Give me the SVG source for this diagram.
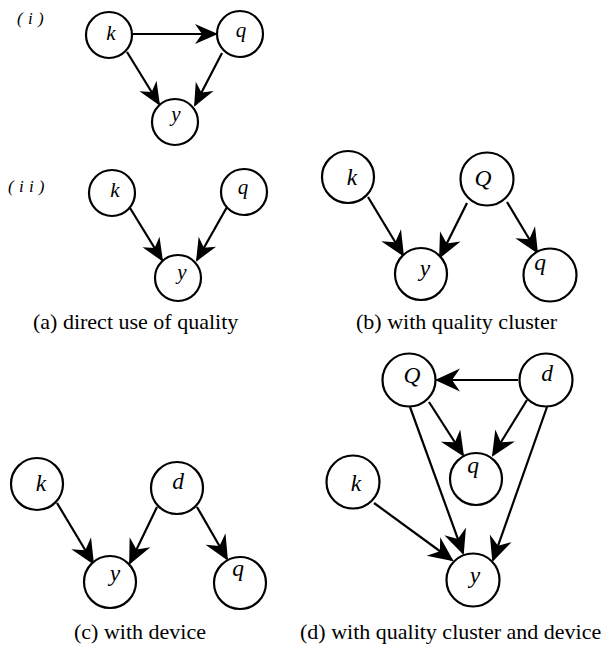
<svg xmlns="http://www.w3.org/2000/svg" width="613" height="648" viewBox="0 0 613 648">
  <style>
    .node circle { fill: #ffffff; stroke: #000000; stroke-width: 2.2; }
    .lbl { font-family: "Liberation Serif", "Times New Roman", serif; font-style: italic; fill: #000000; text-anchor: middle; }
    .s { font-size: 21px; }
    .m { font-size: 23.5px; }
    .cap { font-family: "Liberation Serif", "Times New Roman", serif; font-size: 22px; fill: #000000; }
    .tag { font-family: "Liberation Serif", "Times New Roman", serif; font-style: italic; font-size: 17px; fill: #000000; }
    .edge { stroke: #000000; stroke-width: 2.2; fill: none; }
    .small { marker-end: url(#headS); }
    .big { marker-end: url(#headL); }
  </style>
  <defs>
    <marker id="headS" markerUnits="userSpaceOnUse" orient="auto" refX="0" refY="0" markerWidth="30" markerHeight="30" overflow="visible">
      <path d="M2,0 L-21,-10 L-14,0 L-21,10 Z" fill="#000000"/>
    </marker>
    <marker id="headL" markerUnits="userSpaceOnUse" orient="auto" refX="0" refY="0" markerWidth="30" markerHeight="30" overflow="visible">
      <path d="M2,0 L-23,-11.5 L-15,0 L-23,11.5 Z" fill="#000000"/>
    </marker>
  </defs>

  <!-- row tags -->
  <text class="tag" x="17" y="24" letter-spacing="0.5">( i )</text>
  <text class="tag" x="8" y="192" letter-spacing="0.5">( i i )</text>

  <!-- connectors -->
  <g id="connectors">
    <!-- (i) -->
    <line class="edge small" x1="133" y1="34" x2="216" y2="34"/>
    <line class="edge small" x1="127" y1="52" x2="159" y2="104"/>
    <line class="edge small" x1="222" y1="53" x2="195" y2="105"/>
    <!-- (ii) -->
    <line class="edge small" x1="130" y1="208" x2="162" y2="260"/>
    <line class="edge small" x1="227" y1="207" x2="197" y2="260"/>
    <!-- (b) -->
    <line class="edge big" x1="368" y1="197" x2="403" y2="255"/>
    <line class="edge big" x1="467" y1="203" x2="440" y2="257"/>
    <line class="edge big" x1="507" y1="202" x2="537" y2="252"/>
    <!-- (c) -->
    <line class="edge big" x1="57" y1="503" x2="93" y2="563"/>
    <line class="edge big" x1="157" y1="507" x2="130" y2="563"/>
    <line class="edge big" x1="197" y1="507" x2="227" y2="559"/>
    <!-- (d) -->
    <line class="edge big" x1="518" y1="380" x2="437" y2="380"/>
    <line class="edge big" x1="429" y1="402" x2="463" y2="455"/>
    <line class="edge big" x1="527" y1="400" x2="493" y2="455"/>
    <line class="edge big" x1="410" y1="407" x2="463" y2="553"/>
    <line class="edge big" x1="547" y1="407" x2="493" y2="560"/>
    <line class="edge big" x1="374" y1="503" x2="452" y2="560"/>
  </g>

  <!-- (i) -->
  <g id="i-k" class="node"><circle cx="109" cy="35" r="23"/><text class="lbl s" x="111" y="40">k</text></g>
  <g id="i-q" class="node"><circle cx="240" cy="34" r="23"/><text class="lbl s" x="241" y="37">q</text></g>
  <g id="i-y" class="node"><circle cx="175" cy="122" r="23"/><text class="lbl s" x="176" y="121">y</text></g>

  <!-- (ii) -->
  <g id="ii-k" class="node"><circle cx="112" cy="193" r="23"/><text class="lbl s" x="115" y="197">k</text></g>
  <g id="ii-q" class="node"><circle cx="244" cy="192" r="23"/><text class="lbl s" x="243" y="194">q</text></g>
  <g id="ii-y" class="node"><circle cx="178" cy="278" r="23"/><text class="lbl s" x="182" y="279">y</text></g>

  <!-- (b) -->
  <g id="b-k" class="node"><circle cx="348" cy="177" r="26"/><text class="lbl m" x="352" y="185">k</text></g>
  <g id="b-Q" class="node"><circle cx="487" cy="179" r="26.5"/><text class="lbl m" x="483" y="186">Q</text></g>
  <g id="b-y" class="node"><circle cx="421" cy="274" r="26"/><text class="lbl m" x="425" y="276">y</text></g>
  <g id="b-q" class="node"><circle cx="550" cy="275" r="26.5"/><text class="lbl m" x="540" y="270">q</text></g>

  <!-- (c) -->
  <g id="c-k" class="node"><circle cx="37" cy="484" r="26"/><text class="lbl m" x="41" y="491">k</text></g>
  <g id="c-d" class="node"><circle cx="177" cy="488" r="26"/><text class="lbl m" x="178" y="489">d</text></g>
  <g id="c-y" class="node"><circle cx="110" cy="582" r="26"/><text class="lbl m" x="115" y="581">y</text></g>
  <g id="c-q" class="node"><circle cx="240" cy="583" r="26"/><text class="lbl m" x="238" y="576">q</text></g>

  <!-- (d) -->
  <g id="d-Q" class="node"><circle cx="409" cy="380" r="26.5"/><text class="lbl m" x="412" y="383">Q</text></g>
  <g id="d-d" class="node"><circle cx="546" cy="380" r="26.5"/><text class="lbl m" x="547" y="381">d</text></g>
  <g id="d-q" class="node"><circle cx="476" cy="479" r="26"/><text class="lbl m" x="473" y="473">q</text></g>
  <g id="d-k" class="node"><circle cx="353" cy="482" r="26.5"/><text class="lbl m" x="356" y="491">k</text></g>
  <g id="d-y" class="node"><circle cx="473" cy="580" r="26.5"/><text class="lbl m" x="475" y="583">y</text></g>

  <!-- captions -->
  <text class="cap" x="33" y="329">(a) direct use of quality</text>
  <text class="cap" x="356" y="329">(b) with quality cluster</text>
  <text class="cap" x="74" y="639">(c) with device</text>
  <text class="cap" x="300" y="639">(d) with quality cluster and device</text>
</svg>
